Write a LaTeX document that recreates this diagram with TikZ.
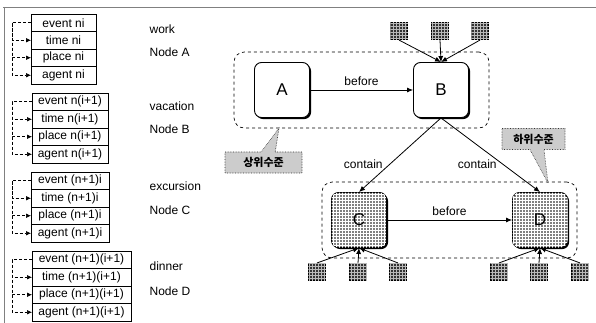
\documentclass[tikz,border=0pt]{standalone}
\usepackage{fontspec}
\setmainfont{Liberation Sans}
\newfontfamily\kr{Noto Sans CJK KR}
\usetikzlibrary{positioning,arrows.meta,shadows,shapes.callouts,patterns,fit}

\begin{document}
\begin{tikzpicture}[x=1pt,y=-1pt,font=\fontsize{12}{14}\selectfont,line width=.6pt,
  cell/.style={draw,minimum height=17.5pt,inner sep=0pt,outer sep=0pt},
  link/.style={densely dashed,-{Latex[length=5pt,width=4.5pt]}},
  arr/.style={line width=.8pt,-{Latex[length=6pt,width=5pt]}},
  lab/.style={anchor=west},
  box/.style={draw,line width=.9pt,rounded corners=7pt,fill=white,minimum size=55pt,font=\fontsize{17}{20}\selectfont,
    drop shadow={shadow xshift=1.6pt,shadow yshift=-1.6pt,opacity=1,fill=black}},
  gbox/.style={box,fill=black!50,postaction={pattern=grid,pattern color=white!70}},
  sq/.style={draw,fill=black!80,minimum size=17.5pt,inner sep=0pt,postaction={pattern=grid,pattern color=gray!55}},
  grp/.style={draw,dashed,line width=.7pt,rounded corners=10pt,inner ysep=10pt},
  note/.style={rectangle callout,draw=black!80,densely dotted,fill=gray!40,font=\kr\bfseries\fontsize{11}{13}\selectfont,
    minimum height=21pt,callout pointer width=14pt}]
\useasboundingbox (0,0) rectangle (596,323);
\draw[gray] (3,7)--(596,7);
\draw[gray] (4,7)--(4,323);
\coordinate (xl) at (12,0);

% event tables
\node[cell,minimum width=65pt,anchor=north west] (e1) at (31,14) {event ni};
\node[cell,minimum width=65pt,below=0pt of e1] (t1) {time ni};
\node[cell,minimum width=65pt,below=0pt of t1] (p1) {place ni};
\node[cell,minimum width=65pt,below=0pt of p1] (a1) {agent ni};
\node[cell,minimum width=76pt,anchor=north west] (e2) at (32,93) {event n(i+1)};
\node[cell,minimum width=76pt,below=0pt of e2] (t2) {time n(i+1)};
\node[cell,minimum width=76pt,below=0pt of t2] (p2) {place n(i+1)};
\node[cell,minimum width=76pt,below=0pt of p2] (a2) {agent n(i+1)};
\node[cell,minimum width=78pt,anchor=north west] (e3) at (31,172) {event (n+1)i};
\node[cell,minimum width=78pt,below=0pt of e3] (t3) {time (n+1)i};
\node[cell,minimum width=78pt,below=0pt of t3] (p3) {place (n+1)i};
\node[cell,minimum width=78pt,below=0pt of p3] (a3) {agent (n+1)i};
\node[cell,minimum width=99pt,anchor=north west] (e4) at (32,251) {event (n+1)(i+1)};
\node[cell,minimum width=99pt,below=0pt of e4] (t4) {time (n+1)(i+1)};
\node[cell,minimum width=99pt,below=0pt of t4] (p4) {place (n+1)(i+1)};
\node[cell,minimum width=99pt,below=0pt of p4] (a4) {agent (n+1)(i+1)};
\draw[link] (e1.west)--(e1.west -| xl) |- (t1.west);
\draw[link] (e1.west -| xl) |- (p1.west);
\draw[link] (e1.west -| xl) |- (a1.west);
\draw[link] (e2.west)--(e2.west -| xl) |- (t2.west);
\draw[link] (e2.west -| xl) |- (p2.west);
\draw[link] (e2.west -| xl) |- (a2.west);
\draw[link] (e3.west)--(e3.west -| xl) |- (t3.west);
\draw[link] (e3.west -| xl) |- (p3.west);
\draw[link] (e3.west -| xl) |- (a3.west);
\draw[link] (e4.west)--(e4.west -| xl) |- (t4.west);
\draw[link] (e4.west -| xl) |- (p4.west);
\draw[link] (e4.west -| xl) |- (a4.west);
\node[lab] (w1) at (146,29) {work};
\node[lab] (n1) at (146,52) {Node A};
\node[lab] (w2) at (146,106) {vacation};
\node[lab] (n2) at (146,129) {Node B};
\node[lab] (w3) at (146,186) {excursion};
\node[lab] (n3) at (146,210) {Node C};
\node[lab] (w4) at (146,266) {dinner};
\node[lab] (n4) at (146,291) {Node D};

% levels
\node[box] (A) at (282,90) {A};
\node[box] (B) at (441,90) {B};
\node[gbox] (C) at (359,220) {C};
\node[gbox] (D) at (540,220) {D};
\node[grp,inner xsep=20pt,fit=(A)(B)] (up) {};
\node[grp,inner xsep=9pt,fit=(C)(D)] (low) {};
\draw[arr] (A)--node[above=1pt]{before}(B);
\draw[arr] (C)--node[above=1pt]{before}(D);
\draw[arr] (B.south)--node[pos=.63,left=3pt]{contain}(C.north);
\draw[arr] (B.south)--node[pos=.63,left=3pt]{contain}(D.north);
\node[sq] (b1) at (399,31) {};
\node[sq] (b2) at (440,31) {};
\node[sq] (b3) at (480,31) {};
\draw[arr] (b1.south)--(B.north);
\draw[arr] (b2.south)--(B.north);
\draw[arr] (b3.south)--(B.north);
\node[sq] (c1) at (317,272) {};
\node[sq] (c2) at (358,272) {};
\node[sq] (c3) at (398,272) {};
\draw[arr] (c1.north)--(C.south);
\draw[arr] (c2.north)--(C.south);
\draw[arr] (c3.north)--(C.south);
\node[sq] (d1) at (499,272) {};
\node[sq] (d2) at (539,272) {};
\node[sq] (d3) at (580,272) {};
\draw[arr] (d1.north)--(D.south);
\draw[arr] (d2.north)--(D.south);
\draw[arr] (d3.north)--(D.south);
\node[note,minimum width=77pt,callout absolute pointer={(279,128)}] (hi) at (263.5,162.5) {상위수준};
\node[note,minimum width=63pt,callout absolute pointer={(548,183)}] (lo) at (533.5,139) {하위수준};
\end{tikzpicture}
\end{document}
